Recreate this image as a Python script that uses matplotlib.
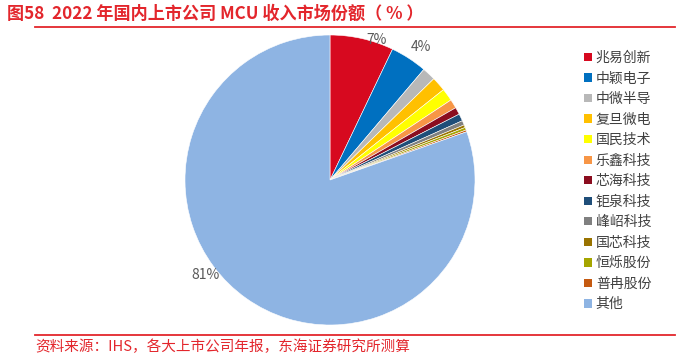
import matplotlib
matplotlib.use("Agg")
import matplotlib.pyplot as plt
from matplotlib.patches import Patch
from matplotlib.lines import Line2D

plt.rcParams['font.family'] = ['Noto Sans CJK SC', 'DejaVu Sans']

companies = ["兆易创新", "中颖电子", "中微半导", "复旦微电", "国民技术", "乐鑫科技",
             "芯海科技", "钜泉科技", "峰岹科技", "国芯科技", "恒烁股份", "普冉股份", "其他"]
shares = [7.1, 4.1, 1.5, 1.6, 1.4, 1.0, 0.8, 0.8, 0.5, 0.3, 0.3, 0.2, 80.4]
shown_labels = ["7%", "4%", "", "", "", "", "", "", "", "", "", "", "81%"]
colors = ["#D7091F", "#0070C0", "#B8B8B8", "#FFC000", "#FFFF00", "#F79646",
          "#8B0D1F", "#1F4E79", "#808080", "#997300", "#A5A500", "#C55A11", "#8EB4E3"]

W, H = 698, 357
fig = plt.figure(figsize=(W / 100, H / 100), dpi=100)

cx, cy, r = 330, 180, 145
ax = fig.add_axes([(cx - r) / W, (H - cy - r) / H, 2 * r / W, 2 * r / H])
wedges, texts = ax.pie(shares, labels=shown_labels, colors=colors, startangle=90,
                       counterclock=False, labeldistance=1.08,
                       wedgeprops=dict(edgecolor="white", linewidth=0.4),
                       textprops=dict(color="#595959", fontsize=10))
ax.set_xlim(-1, 1)
ax.set_ylim(-1, 1)
ax.set_aspect("equal")

# Excel-style label placement
label_pos = {0: (0.324, 0.966), 1: (0.628, 0.917), 12: (-0.862, -0.655)}
for i, t in enumerate(texts):
    if i in label_pos:
        t.set_position(label_pos[i])
        t.set_ha("center")
        t.set_va("center")

handles = [Patch(facecolor=c, edgecolor="none") for c in colors]
fig.legend(handles, companies, loc="upper left", bbox_to_anchor=(584 / W, 1 - 51 / H),
           frameon=False, fontsize=10, handlelength=0.55, handleheight=0.55,
           handletextpad=0.3, labelspacing=0.47, labelcolor="#404040",
           borderaxespad=0, borderpad=0)

red = "#E3262C"
fig.text(7 / W, 1 - 14 / H, "图58  2022 年国内上市公司 MCU 收入市场份额（ % ）",
         color=red, fontsize=12.3, fontweight="bold", ha="left", va="center")
fig.add_artist(Line2D([35 / W, 675 / W], [1 - 26.5 / H] * 2, color=red, linewidth=1.3,
                      transform=fig.transFigure))
fig.add_artist(Line2D([35 / W, 675 / W], [1 - 334.5 / H] * 2, color=red, linewidth=1.3,
                      transform=fig.transFigure))
fig.text(35 / W, 1 - 347 / H, "资料来源：IHS，各大上市公司年报，东海证券研究所测算",
         color=red, fontsize=10.5, ha="left", va="center")

fig.savefig("out.png", dpi=100)
